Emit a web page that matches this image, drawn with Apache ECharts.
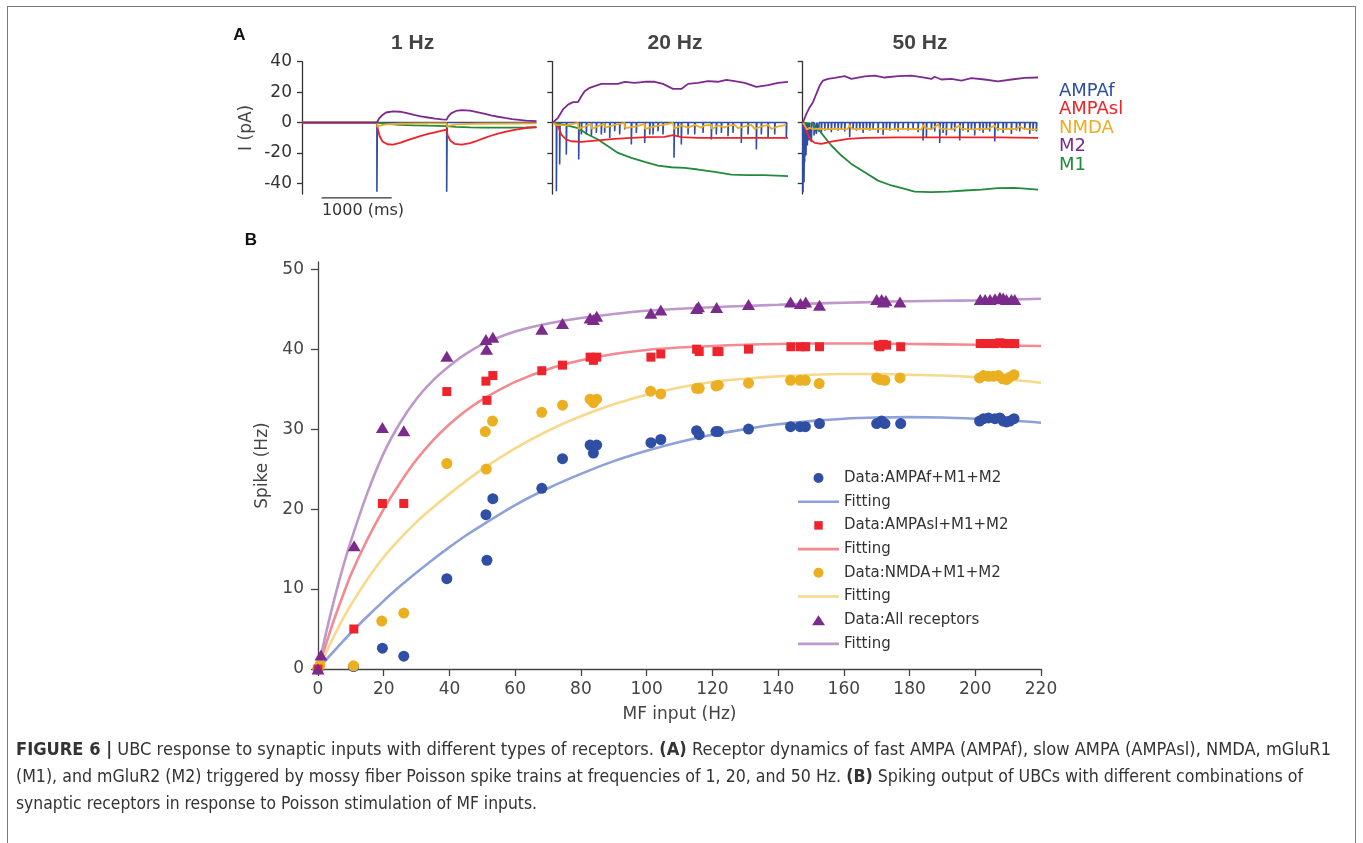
<!DOCTYPE html>
<html><head><meta charset="utf-8">
<script src="https://cdn.jsdelivr.net/npm/echarts@6/dist/echarts.min.js"></script>
<style>
html,body{margin:0;padding:0;background:#fff;overflow:hidden;width:1363px;height:843px;}
#frame{position:absolute;left:7px;top:6px;width:1349px;height:900px;border:1.5px solid #7a7a7a;box-sizing:border-box;}
#chart{position:absolute;left:0;top:0;width:1363px;height:843px;}
.cap{position:absolute;left:16px;white-space:nowrap;font-family:"Liberation Sans Narrow","DejaVu Sans Condensed","Liberation Sans",sans-serif;font-size:17px;line-height:20px;color:#333;transform-origin:0 50%;}
</style></head><body>
<div id="frame"></div>
<div id="chart"></div>
<div class="cap" id="cap1" style="top:739px"><b>FIGURE 6 |</b> UBC response to synaptic inputs with different types of receptors. <b>(A)</b> Receptor dynamics of fast AMPA (AMPAf), slow AMPA (AMPAsl), NMDA, mGluR1</div>
<div class="cap" id="cap2" style="top:766px">(M1), and mGluR2 (M2) triggered by mossy fiber Poisson spike trains at frequencies of 1, 20, and 50 Hz. <b>(B)</b> Spiking output of UBCs with different combinations of</div>
<div class="cap" id="cap3" style="top:793px">synaptic receptors in response to Poisson stimulation of MF inputs.</div>
<script>
// ---------------- Panel B data ----------------
const FIT_X = [0,2.5,5,7.5,10,15,20,25,30,35,40,45,50,60,70,80,90,100,110,120,130,140,150,160,170,180,190,200,210,220];
const FIT_AMPAF = [0,1.17,2.31,3.42,4.5,6.56,8.52,10.37,12.07,13.7,15.24,16.7,18.0,20.5,22.6,24.4,26.0,27.3,28.4,29.3,30.0,30.6,31.0,31.3,31.45,31.5,31.45,31.3,31.1,30.8];
const FIT_AMPASL = [0,3.2,6.3,9.1,11.8,16.2,20.0,23.3,26.2,28.6,30.6,32.3,33.7,35.9,37.5,38.6,39.4,39.9,40.2,40.4,40.55,40.65,40.7,40.7,40.7,40.65,40.6,40.55,40.45,40.4];
const FIT_NMDA = [0,2.1,4.2,6.2,8.0,11.2,14.0,16.3,18.4,20.2,21.9,23.5,25.0,27.6,29.8,31.6,33.1,34.3,35.2,35.9,36.3,36.6,36.8,36.9,36.9,36.8,36.7,36.5,36.2,35.8];
const FIT_ALL = [0,4.6,8.8,12.6,16.0,22.0,27.0,30.8,33.8,36.1,37.9,39.4,40.6,42.2,43.2,43.9,44.4,44.8,45.05,45.25,45.4,45.55,45.7,45.8,45.9,46.0,46.05,46.1,46.2,46.3];

const DATA_AMPAF = [[0,0],[10.8,0.3],[19.6,2.6],[26.1,1.6],[39.2,11.3],[51.4,13.6],[51.1,19.3],[53.2,21.3],[68.1,22.6],[74.4,26.3],[82.8,28.0],[84.8,28.0],[83.8,27.0],[101.3,28.3],[104.3,28.7],[115.2,29.8],[116.0,29.3],[121.1,29.7],[121.8,29.7],[131.0,30.0],[143.8,30.3],[146.7,30.3],[148.3,30.3],[152.6,30.7],[170.0,30.7],[171.5,31.0],[172.5,30.7],[177.3,30.7],[201.3,31.0],[202.5,31.3],[204.0,31.4],[206.0,31.3],[207.5,31.4],[208.5,31.0],[209.5,30.9],[210.5,31.0],[211.8,31.3]];
const DATA_AMPASL = [[0,0],[10.9,5.0],[19.6,20.7],[26.1,20.7],[39.2,34.7],[51.1,36.0],[53.2,36.7],[51.4,33.6],[68.1,37.3],[74.4,38.0],[82.8,39.0],[84.8,39.0],[83.8,38.6],[101.3,39.0],[104.3,39.4],[115.2,40.0],[116.0,39.7],[121.4,39.7],[122.0,39.7],[131.0,40.0],[143.9,40.3],[146.8,40.3],[148.4,40.3],[152.6,40.3],[170.5,40.5],[171.0,40.3],[172.0,40.6],[173.0,40.5],[177.3,40.3],[201.5,40.7],[203.0,40.7],[204.5,40.7],[206.0,40.7],[207.5,40.8],[209.0,40.7],[210.5,40.7],[212.0,40.7]];
const DATA_NMDA = [[0,0],[0.6,0.5],[10.8,0.4],[19.4,6.0],[26.1,7.0],[39.2,25.7],[51.2,25.0],[50.9,29.7],[53.1,31.0],[68.1,32.1],[74.4,33.0],[82.8,33.75],[84.8,33.75],[83.8,33.3],[101.2,34.75],[104.3,34.4],[115.2,35.1],[116.0,35.1],[121.1,35.4],[121.8,35.5],[131.0,35.75],[143.8,36.1],[146.7,36.1],[148.3,36.1],[152.5,35.7],[170.0,36.4],[171.0,36.2],[172.5,36.1],[177.1,36.4],[201.3,36.4],[202.5,36.7],[204.0,36.6],[205.5,36.6],[207.0,36.7],[208.3,36.3],[209.5,36.2],[210.5,36.5],[211.8,36.8]];
const DATA_ALL = [[0,0],[0.9,1.75],[11.0,15.4],[19.6,30.2],[26.1,29.8],[39.2,39.1],[51.3,40.0],[51.1,41.2],[53.2,41.5],[68.1,42.5],[74.4,43.2],[82.8,43.9],[84.8,44.1],[83.8,43.7],[101.3,44.5],[104.3,44.9],[115.8,45.3],[115.2,45.1],[121.3,45.2],[131.0,45.6],[143.8,45.9],[146.8,45.7],[148.4,45.9],[152.6,45.5],[170.0,46.2],[171.5,46.2],[172.0,45.9],[172.8,46.1],[177.1,45.9],[201.5,46.2],[203.0,46.2],[204.5,46.2],[206.0,46.3],[207.5,46.5],[208.5,46.4],[209.5,46.2],[211.0,46.2],[212.0,46.2]];

const B_Y_TICKS = [0,10,20,30,40,50];

// ---------------- Panel A data (time ms, current pA) ----------------
const A_Y_TICKS = [-40,-20,0,20,40];
const A_TITLES = ['1 Hz','20 Hz','50 Hz'];
const T_END = 3360;
const SCALE_BAR = [[281,-49.6],[1281,-49.6]];

const A1_AMPAF_SPIKES = [[1070,-45.5],[2067,-45.5]];
const A1_AMPASL = [[0,0],[1070,0],[1080,-4],[1110,-9],[1150,-12.5],[1220,-14.3],[1300,-14.5],[1400,-13.4],[1500,-11.8],[1600,-10.2],[1700,-8.8],[1800,-7.5],[1900,-6.4],[2000,-5.3],[2067,-4.7],[2080,-8.5],[2120,-12],[2180,-14.0],[2280,-14.6],[2400,-13.5],[2500,-12.0],[2600,-10.3],[2700,-8.7],[2800,-7.3],[2900,-6.1],[3000,-5.1],[3100,-4.3],[3200,-3.6],[3350,-3.0]];
const A1_NMDA = [[0,0],[1070,0],[1078,-3],[1110,-2.0],[1200,-1.2],[1400,-0.8],[1800,-0.6],[2067,-0.5],[2075,-3.0],[2110,-2.0],[2200,-1.2],[2500,-0.8],[3350,-0.5]];
const A1_M2 = [[0,0],[1070,0],[1100,2.5],[1150,5.0],[1200,6.6],[1300,7.4],[1400,7.1],[1500,6.2],[1600,5.1],[1700,4.1],[1800,3.3],[1900,2.6],[2000,2.1],[2067,1.9],[2090,4.0],[2130,6.0],[2200,7.6],[2280,8.2],[2400,7.8],[2500,6.9],[2600,5.8],[2700,4.7],[2800,3.8],[2900,3.0],[3000,2.3],[3100,1.8],[3200,1.3],[3350,0.9]];
const A1_M1 = [[0,0],[1070,0],[1200,-0.8],[1400,-1.5],[1600,-1.9],[1800,-2.1],[2067,-2.3],[2200,-2.8],[2400,-3.2],[2600,-3.4],[2800,-3.4],[3000,-3.3],[3200,-3.2],[3350,-3.1]];

const A2_AMPAF_SPIKES = [[58,-45.2],[105,-27.6],[200,-21.1],[377,-24.3],[415,-7.9],[486,-7.9],[558,-9.0],[629,-6.8],[700,-7.9],[748,-6.8],[820,-10.1],[891,-5.7],[962,-7.9],[1034,-4.6],[1129,-14.5],[1200,-6.8],[1320,-13.4],[1391,-7.9],[1439,-7.9],[1510,-5.7],[1581,-7.9],[1739,-23.2],[1796,-9.0],[1843,-14.5],[1939,-7.9],[2034,-7.9],[2153,-6.8],[2272,-11.2],[2343,-7.9],[2415,-6.8],[2510,-9.0],[2581,-6.8],[2700,-13.4],[2796,-7.9],[2915,-17.8],[2986,-7.9],[3082,-10.1],[3177,-7.9],[3343,-10.1]];
const A2_AMPASL = [[10,0],[81,-2.4],[129,-7.9],[200,-11.2],[272,-12.3],[415,-12.7],[653,-11.8],[891,-10.7],[1129,-10.1],[1367,-9.6],[1605,-9.4],[1724,-8.3],[1843,-9.6],[2081,-10.1],[2320,-10.1],[2558,-10.1],[2796,-10.1],[3034,-10.1],[3272,-10.1],[3367,-10.1]];
const A2_NMDA = [[10,0],[58,-1.5],[200,-1.9],[367,-0.2],[377,-4.2],[462,-2.6],[558,-0.9],[565,-4.2],[677,-1.9],[748,-0.9],[755,-3.3],[891,-1.5],[1034,-0.2],[1040,-3.7],[1200,-2.6],[1320,-0.9],[1325,-4.2],[1462,-2.6],[1581,-1.5],[1724,-0.2],[1739,-4.2],[1843,-1.9],[1939,-3.3],[2034,-1.5],[2129,-3.3],[2177,-1.9],[2272,-1.5],[2280,-4.2],[2367,-1.9],[2462,-3.3],[2534,-1.9],[2605,-1.5],[2653,-3.7],[2748,-2.6],[2843,-1.5],[2891,-4.2],[2986,-2.6],[3082,-1.5],[3129,-4.2],[3224,-2.6],[3343,-1.5]];
const A2_M2 = [[10,0],[81,3.1],[153,8.6],[224,11.8],[296,13.4],[367,13.4],[415,17.3],[462,20.6],[534,22.8],[605,23.9],[700,25.4],[843,25.4],[939,25.4],[1034,26.8],[1177,26.1],[1320,26.8],[1462,26.8],[1581,25.4],[1724,22.1],[1843,22.1],[1939,25.4],[2081,26.1],[2224,27.2],[2367,26.8],[2486,28.1],[2605,27.2],[2748,26.1],[2915,23.5],[3082,24.6],[3224,26.1],[3367,26.8]];
const A2_M1 = [[10,0],[177,-1.5],[367,-3.7],[510,-7.9],[653,-11.2],[796,-15.6],[939,-20.0],[1129,-23.2],[1320,-25.9],[1510,-28.3],[1701,-29.4],[1891,-29.8],[2081,-30.9],[2320,-32.5],[2558,-34.2],[2796,-34.6],[3034,-34.6],[3367,-35.3]];

const A3_AMPAF_SPIKES = [[4,-45.8],[19,-39.3],[28,-26.1],[47,-21.7],[66,-15.1],[90,-11.8],[124,-12.9],[162,-8.5],[195,-7.5],[228,-5.9],[266,-6.8],[314,-5.3],[362,-4.6],[409,-6.4],[457,-4.6],[505,-5.3],[552,-4.2],[600,-5.9],[671,-9.6],[719,-4.6],[767,-5.3],[814,-4.2],[862,-6.8],[910,-4.6],[957,-5.3],[1005,-4.2],[1076,-6.8],[1148,-8.1],[1195,-4.6],[1243,-5.3],[1314,-4.2],[1362,-5.9],[1433,-4.6],[1505,-5.3],[1576,-4.2],[1648,-6.4],[1719,-11.8],[1767,-9.6],[1838,-4.6],[1886,-5.9],[1957,-13.4],[2005,-6.8],[2052,-8.5],[2124,-4.6],[2171,-5.9],[2243,-11.8],[2290,-5.3],[2362,-6.4],[2409,-4.6],[2457,-8.5],[2528,-5.3],[2576,-6.8],[2624,-4.6],[2671,-5.9],[2743,-12.5],[2790,-5.3],[2862,-6.8],[2909,-4.6],[2981,-7.5],[3052,-5.3],[3100,-5.9],[3171,-4.6],[3243,-7.5],[3290,-5.3],[3338,-5.9]];
const A3_AMPASL = [[4,0],[52,-5.3],[100,-10.8],[171,-13.4],[267,-14.1],[409,-12.6],[648,-10.8],[886,-10.1],[1362,-9.7],[1838,-9.7],[2314,-9.7],[2790,-9.7],[3362,-10.1]];
const A3_NMDA = [[4,0],[30,-2],[60,-4.5],[100,-3.5],[150,-4.3],[250,-4.0],[350,-4.5],[450,-4.0],[550,-4.3],[640,-4.5],[671,-1.5],[700,-4.0],[800,-4.3],[900,-4.0],[1000,-4.5],[1100,-4.0],[1200,-4.3],[1300,-4.5],[1400,-4.0],[1500,-4.3],[1600,-4.2],[1700,-4.6],[1719,-1.7],[1750,-3.5],[1838,-4.5],[1940,-1.2],[1960,-4.0],[2050,-4.3],[2150,-4.5],[2240,-1.8],[2260,-4.0],[2350,-4.3],[2450,-4.5],[2550,-4.0],[2650,-4.3],[2743,-2.0],[2770,-4.0],[2870,-4.5],[2950,-4.0],[3050,-4.3],[3110,-2.5],[3150,-4.0],[3250,-4.5],[3362,-4.5]];
const A3_M2 = [[4,0],[52,5.7],[100,10.1],[147,13.4],[195,18.9],[243,24.3],[290,27.6],[362,28.7],[457,29.4],[600,30.5],[695,28.7],[886,30.3],[1028,30.9],[1171,29.6],[1362,30.5],[1552,30.9],[1695,29.8],[1838,28.7],[1885,30.1],[1981,28.3],[2124,28.7],[2266,27.6],[2409,29.2],[2600,28.3],[2790,27.0],[2981,28.3],[3171,29.4],[3362,29.6]];
const A3_M1 = [[4,0],[124,-0.9],[219,-4.2],[314,-9.7],[409,-15.1],[552,-21.7],[695,-27.2],[886,-32.7],[1076,-38.2],[1267,-41.4],[1457,-43.6],[1600,-45.4],[1838,-45.8],[2076,-45.4],[2314,-44.7],[2552,-44.1],[2790,-43.2],[3028,-43.0],[3362,-44.1]];

// ---------------- styling constants ----------------
const C = {ampaf:'#2F4DA1', ampasl:'#EE2229', nmda:'#ECAD22', m2:'#7C2A8D', m1:'#23893B'};
const FITC = {ampaf:'#8EA2D9', ampasl:'#F4898F', nmda:'#F7D98B', all:'#BE98CA'};
const MK = {ampaf:'#2E4FA3', ampasl:'#EE242D', nmda:'#EBAF22', all:'#7B2B8C'};
const FONT = 'DejaVu Sans';
const ICON = {
  circle:'path://M0,0M13,13M1.5,6.5A5,5,0,1,1,11.5,6.5A5,5,0,1,1,1.5,6.5Z',
  square:'path://M0,0M13,13M2.25,2.25L10.75,2.25L10.75,10.75L2.25,10.75Z',
  triangle:'path://M0,0M13,13M0,11.5L6.5,1.5L13,11.5Z',
  line:'path://M0,0L41,0L41,2.6L0,2.6Z'
};

function spikeTrace(spikes){
  const out = [[0,0]];
  spikes.forEach(function(s){ out.push([s[0],0],[s[0],s[1]],[s[0]+7,0]); });
  out.push([T_END-10,0]);
  return out;
}
function zip(xs, ys){ return xs.map(function(x,i){ return [x, ys[i]]; }); }

const chart = echarts.init(document.getElementById('chart'), null, {renderer:'canvas'});

const AX = [302, 552.3, 802.7];
const grids = AX.map(function(l){ return {left:l, top:61.7, width:235.2, height:132.3}; });
grids.push({left:318, top:262, width:723, height:407});

const xAxes = [0,1,2].map(function(i){ return {gridIndex:i, type:'value', min:0, max:T_END, show:false}; });
xAxes.push({gridIndex:3, type:'value', min:0, max:220, interval:20,
  axisLine:{lineStyle:{color:'#444', width:1.3}},
  axisTick:{length:7, lineStyle:{color:'#444', width:1.3}},
  axisLabel:{fontSize:17, color:'#444', fontFamily:FONT, margin:12},
  splitLine:{show:false},
  name:'MF input (Hz)', nameLocation:'middle', nameGap:37,
  nameTextStyle:{fontSize:17, color:'#444', fontFamily:FONT}});

const yAxes = [0,1,2].map(function(i){ return {gridIndex:i, type:'value', min:-47, max:40,
  axisLine:{show:true, lineStyle:{color:'#333', width:1.3}},
  axisTick:{show:true, length:5, customValues:A_Y_TICKS, lineStyle:{color:'#333', width:1.3}},
  axisLabel:{show:i===0, customValues:A_Y_TICKS, fontSize:17, color:'#333', fontFamily:FONT, margin:10},
  splitLine:{show:false},
  name:i===0?'I (pA)':'', nameLocation:'middle', nameGap:47,
  nameTextStyle:{fontSize:17, color:'#444', fontFamily:FONT}}; });
yAxes.push({gridIndex:3, type:'value', min:0, max:50.9,
  axisLine:{show:true, lineStyle:{color:'#444', width:1.3}},
  axisTick:{show:true, length:7, customValues:B_Y_TICKS, lineStyle:{color:'#444', width:1.3}},
  axisLabel:{customValues:B_Y_TICKS, fontSize:17, color:'#444', fontFamily:FONT, margin:14},
  splitLine:{show:false},
  name:'Spike (Hz)', nameLocation:'middle', nameGap:45,
  nameTextStyle:{fontSize:17, color:'#444', fontFamily:FONT}});

function aLine(name, idx, data, color, w, z){
  return {name:name, type:'line', xAxisIndex:idx, yAxisIndex:idx, data:data, symbol:'none', showSymbol:false,
    lineStyle:{color:color, width:w}, itemStyle:{color:color}, z:z, silent:true, animation:false};
}
const series = [];
const A_SETS = [
  [A1_AMPAF_SPIKES, A1_M1, A1_AMPASL, A1_NMDA, A1_M2],
  [A2_AMPAF_SPIKES, A2_M1, A2_AMPASL, A2_NMDA, A2_M2],
  [A3_AMPAF_SPIKES, A3_M1, A3_AMPASL, A3_NMDA, A3_M2]
];
A_SETS.forEach(function(s, i){
  series.push(aLine('AMPAf', i, spikeTrace(s[0]), C.ampaf, 1.6, 2));
  series.push(aLine('M1', i, s[1], C.m1, 1.8, 3));
  series.push(aLine('AMPAsl', i, s[2], C.ampasl, 1.8, 4));
  series.push(aLine('NMDA', i, s[3], C.nmda, 1.8, 5));
  series.push(aLine('M2', i, s[4], C.m2, 1.8, 6));
});
const sb = aLine('scalebar', 0, SCALE_BAR, '#333', 1.3, 2);
sb.clip = false;
series.push(sb);

function fit(name, ys, color){
  return {name:name, type:'line', xAxisIndex:3, yAxisIndex:3, data:zip(FIT_X, ys), smooth:0.3, symbol:'none', showSymbol:false,
    lineStyle:{color:color, width:2.6}, itemStyle:{color:color}, z:2, animation:false};
}
function scat(name, data, sym, size, color){
  return {name:name, type:'scatter', xAxisIndex:3, yAxisIndex:3, data:data, symbol:sym, symbolSize:size,
    itemStyle:{color:color, opacity:1}, z:4, animation:false};
}
series.push(fit('Fitting_1', FIT_AMPAF, FITC.ampaf));
series.push(fit('Fitting_2', FIT_AMPASL, FITC.ampasl));
series.push(fit('Fitting_3', FIT_NMDA, FITC.nmda));
series.push(fit('Fitting_4', FIT_ALL, FITC.all));
series.push(scat('Data:AMPAf+M1+M2', DATA_AMPAF, 'circle', 11, MK.ampaf));
series.push(scat('Data:NMDA+M1+M2', DATA_NMDA, 'circle', 11, MK.nmda));
series.push(scat('Data:AMPAsl+M1+M2', DATA_AMPASL, 'rect', 9, MK.ampasl));
series.push(scat('Data:All receptors', DATA_ALL, 'triangle', [13,11], MK.all));

const legendA = {orient:'vertical', left:1054, top:82, padding:0, itemWidth:0, itemHeight:18, itemGap:0.6, icon:'none', selectedMode:false,
  textStyle:{fontSize:18, fontFamily:FONT, lineHeight:18},
  data:[
    {name:'AMPAf', textStyle:{color:C.ampaf}},
    {name:'AMPAsl', textStyle:{color:C.ampasl}},
    {name:'NMDA', textStyle:{color:C.nmda}},
    {name:'M2', textStyle:{color:C.m2}},
    {name:'M1', textStyle:{color:C.m1}}
  ]};
const legendB = {orient:'vertical', left:798, top:470, padding:0, itemWidth:41, itemHeight:13, itemGap:7.7, selectedMode:false,
  symbolKeepAspect:true,
  textStyle:{fontSize:15, fontFamily:FONT, color:'#333', lineHeight:16},
  formatter:function(n){ return n.replace(/_\d$/, ''); },
  data:[
    {name:'Data:AMPAf+M1+M2', icon:ICON.circle},
    {name:'Fitting_1', icon:ICON.line},
    {name:'Data:AMPAsl+M1+M2', icon:ICON.square},
    {name:'Fitting_2', icon:ICON.line},
    {name:'Data:NMDA+M1+M2', icon:ICON.circle},
    {name:'Fitting_3', icon:ICON.line},
    {name:'Data:All receptors', icon:ICON.triangle},
    {name:'Fitting_4', icon:ICON.line}
  ]};

const TITLE_X = [412.7, 675, 920];
const graphic = [];
A_TITLES.forEach(function(t, i){
  graphic.push({type:'text', x:TITLE_X[i], y:43, style:{text:t, fill:'#444', font:'bold 21px "Liberation Sans", Arial, sans-serif', align:'center', verticalAlign:'middle'}});
});
graphic.push({type:'text', x:239.5, y:35, style:{text:'A', fill:'#111', font:'bold 17px "Liberation Sans", Arial, sans-serif', align:'center', verticalAlign:'middle'}});
graphic.push({type:'text', x:251, y:240, style:{text:'B', fill:'#111', font:'bold 17px "Liberation Sans", Arial, sans-serif', align:'center', verticalAlign:'middle'}});
graphic.push({type:'text', x:363, y:211, style:{text:'1000 (ms)', fill:'#333', font:'16px "DejaVu Sans", sans-serif', align:'center', verticalAlign:'middle'}});

chart.setOption({
  animation:false,
  backgroundColor:'transparent',
  grid:grids, xAxis:xAxes, yAxis:yAxes, series:series,
  legend:[legendA, legendB],
  graphic:graphic
});

// fit caption lines to the figure's measured widths
const CAP_W = {cap1:1315, cap2:1287, cap3:521};
Object.keys(CAP_W).forEach(function(id){
  const el = document.getElementById(id);
  const w = el.getBoundingClientRect().width;
  el.style.transform = 'scaleX(' + (CAP_W[id]/w) + ')';
});
</script>
</body></html>
